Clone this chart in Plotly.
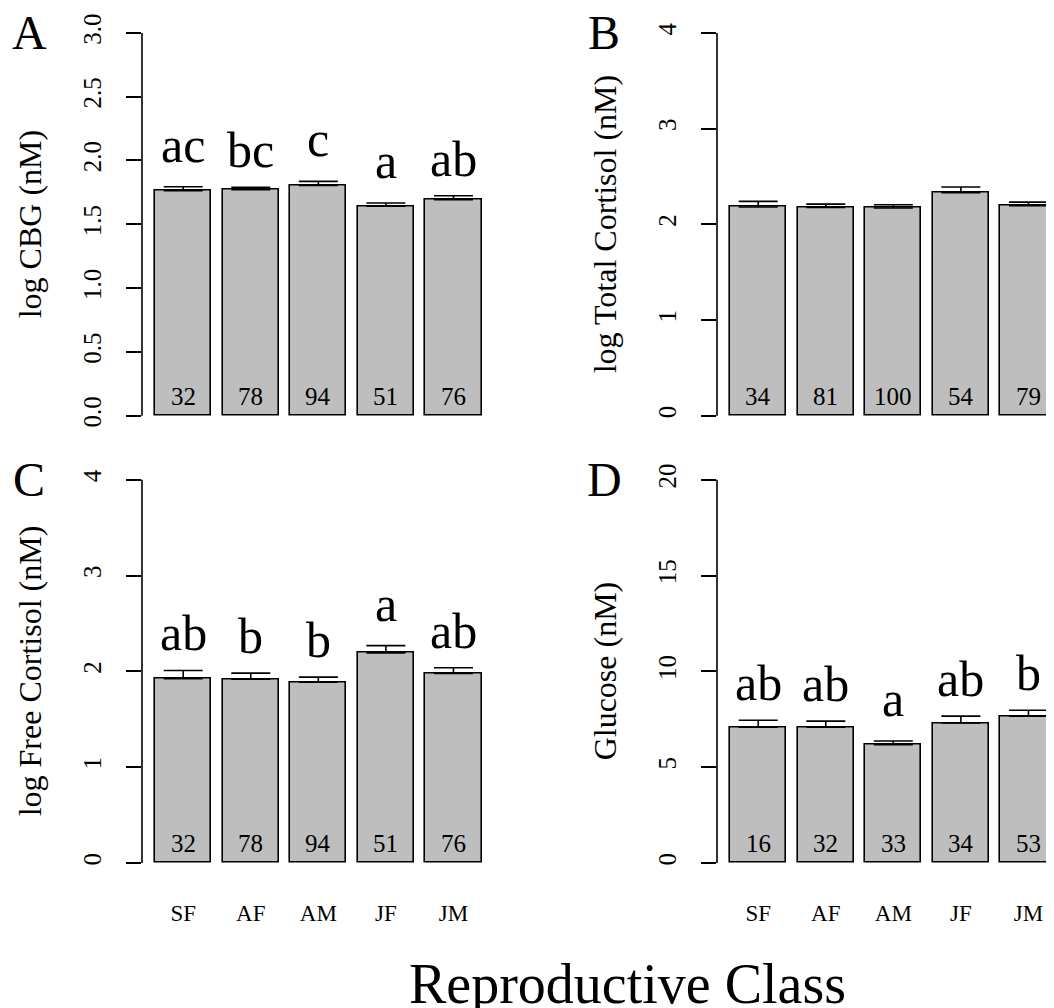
import plotly.graph_objects as go

# ---------------- data ----------------
classes = ["SF", "AF", "AM", "JF", "JM"]

cbg_mean = [1.763, 1.771, 1.805, 1.641, 1.693]
cbg_se = [0.031, 0.018, 0.031, 0.026, 0.031]
cbg_n = [32, 78, 94, 51, 76]
cbg_letters = ["ac", "bc", "c", "a", "ab"]

tot_mean = [2.180, 2.177, 2.170, 2.329, 2.194]
tot_se = [0.060, 0.034, 0.034, 0.060, 0.038]
tot_n = [34, 81, 100, 54, 79]
tot_letters = ["", "", "", "", ""]

free_mean = [1.923, 1.919, 1.888, 2.193, 1.978]
free_se = [0.086, 0.062, 0.052, 0.076, 0.059]
free_n = [32, 78, 94, 51, 76]
free_letters = ["ab", "b", "b", "a", "ab"]

glu_mean = [7.09, 7.09, 6.17, 7.30, 7.66]
glu_se = [0.36, 0.31, 0.19, 0.36, 0.31]
glu_n = [16, 32, 33, 34, 53]
glu_letters = ["ab", "ab", "a", "ab", "b"]

panel_labels = ["A", "B", "C", "D"]
y_titles = ["log CBG (nM)", "log Total Cortisol (nM)", "log Free Cortisol (nM)", "Glucose (nM)"]
y_max = [3.0, 4.0, 4.0, 20.0]
y_step = [0.5, 1.0, 1.0, 5.0]
y_fmt = [".1f", "d", "d", "d"]
x_title = "Reproductive Class"

# ---------------- layout geometry ----------------
OFF = 8                      # page body margin
W, H = 1054 - OFF, 1008 - OFF
FONT = "Liberation Serif, Times New Roman, serif"
bar_x = [0.7 + 1.2 * i for i in range(len(classes))]   # R barplot positions
px_per_unit = 56.3
left_axis_px = [142 - OFF, 717 - OFF, 142 - OFF, 717 - OFF]
top_px = [(13.6 - OFF, 428.7 - OFF), (13.6 - OFF, 428.7 - OFF),
          (462.3 - OFF, 877.7 - OFF), (462.3 - OFF, 877.7 - OFF)]

panels = [
    (cbg_mean, cbg_se, cbg_n, cbg_letters),
    (tot_mean, tot_se, tot_n, tot_letters),
    (free_mean, free_se, free_n, free_letters),
    (glu_mean, glu_se, glu_n, glu_letters),
]

fig = go.Figure()
annotations = []
shapes = []
x0_range = -0.032

for i, (mean, se, n, letters) in enumerate(panels):
    k = "" if i == 0 else str(i + 1)
    xa, ya = "x" + k, "y" + k
    fig.add_trace(go.Bar(
        x=bar_x, y=mean, width=1.0, xaxis=xa, yaxis=ya,
        marker=dict(color="#BEBEBE", line=dict(color="black", width=1.6)),
        error_y=dict(type="data", symmetric=False, array=se, arrayminus=[0] * len(se),
                     color="black", thickness=1.6, width=19.5),
        showlegend=False, hoverinfo="skip",
    ))
    ax_px = left_axis_px[i]
    right_px = min(ax_px + 6.264 * px_per_unit, W)
    xr = [x0_range, x0_range + (right_px - ax_px) / px_per_unit]
    ymax = y_max[i]
    pad = 0.04 * ymax
    t, b = top_px[i]
    bottom_row = i >= 2
    nt = int(round(ymax / y_step[i]))
    tv = [y_step[i] * j for j in range(nt + 1)]
    tt = [format(v, ".1f") if y_fmt[i] == ".1f" else str(int(v)) for v in tv]
    fig.layout["xaxis" + k] = dict(
        domain=[ax_px / W, right_px / W], range=xr, anchor=ya,
        showline=False, showgrid=False, zeroline=False, ticks="",
        tickvals=bar_x, ticktext=classes, showticklabels=bottom_row,
        tickfont=dict(family=FONT, size=23, color="black"), ticklabelstandoff=19,
    )
    fig.layout["yaxis" + k] = dict(
        domain=[1 - b / H, 1 - t / H], range=[-pad, ymax + pad], anchor=xa,
        showline=False, showgrid=False, zeroline=False,
        ticks="outside", ticklen=15, tickwidth=1.6, tickcolor="black",
        tickvals=tv, ticktext=tt, tickangle=-90,
        tickfont=dict(family=FONT, size=25, color="black"), ticklabelstandoff=15,
    )
    shapes.append(dict(type="line", xref=xa + " domain", yref=ya, x0=0, x1=0, y0=0, y1=ymax,
                       line=dict(color="black", width=1.6)))
    # n labels inside bars
    for xv, nv in zip(bar_x, n):
        annotations.append(dict(x=xv, y=0, xref=xa, yref=ya, text=str(nv), showarrow=False,
                                yanchor="middle", yshift=19, font=dict(family=FONT, size=25, color="black")))
    # significance letters
    for xv, m, s, lab in zip(bar_x, mean, se, letters):
        if not lab:
            continue
        tall = any(c in "bdfhklt" for c in lab)
        annotations.append(dict(x=xv, y=m + s, xref=xa, yref=ya, text=lab, showarrow=False,
                                yanchor="middle", yshift=37 if tall else 42,
                                font=dict(family=FONT, size=50, color="black")))
    # y title
    annotations.append(dict(x=(ax_px - 112) / W, y=1 - (t + b) / 2 / H, xref="paper", yref="paper",
                            text=y_titles[i], textangle=-90, showarrow=False,
                            xanchor="center", yanchor="middle",
                            font=dict(family=FONT, size=32, color="black")))
    # panel letter
    annotations.append(dict(x=(ax_px - 113) / W, y=1 - (t + 15.2) / H, xref="paper", yref="paper",
                            text=panel_labels[i], showarrow=False, xanchor="center", yanchor="middle",
                            font=dict(family=FONT, size=48, color="black")))

annotations.append(dict(x=(627 - OFF) / W, y=1 - (984.4 - OFF) / H, xref="paper", yref="paper",
                        text=x_title, showarrow=False, xanchor="center", yanchor="middle",
                        font=dict(family=FONT, size=56, color="black")))

fig.update_layout(width=W, height=H, margin=dict(l=0, r=0, t=0, b=0),
                  paper_bgcolor="white", plot_bgcolor="white",
                  annotations=annotations, shapes=shapes, bargap=0)
fig.write_html("out.html")
